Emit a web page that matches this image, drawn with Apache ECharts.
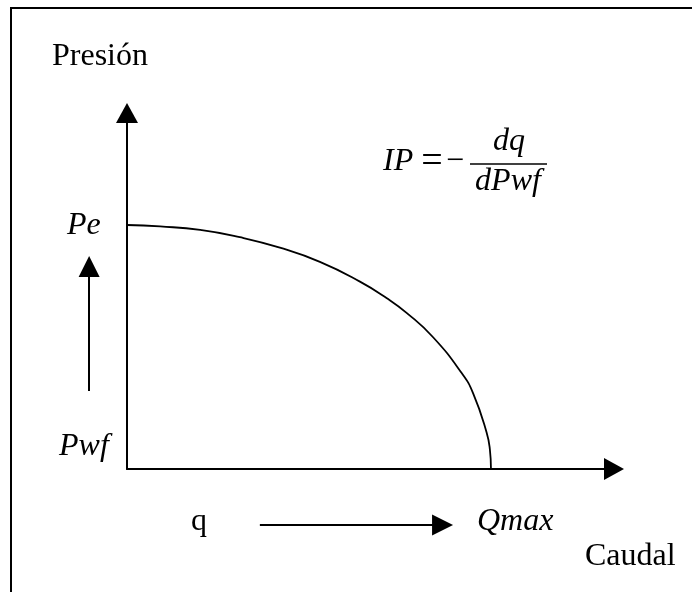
<!DOCTYPE html>
<html>
<head>
<meta charset="utf-8">
<script src="https://cdn.jsdelivr.net/npm/echarts@6/dist/echarts.min.js"></script>
<style>
  html, body { margin: 0; padding: 0; background: #fff; }
  #chart { width: 692px; height: 592px; }
</style>
</head>
<body>
<div id="chart"></div>
<script>
// units: q / Qmax on x, Pwf / Pe on y
const curveQ = [0, 0.091, 0.201, 0.310, 0.420, 0.530, 0.640, 0.714, 0.769, 0.841, 0.920, 0.951, 0.988, 0.997, 1.0];
const curveP = [1.0, 0.994, 0.980, 0.950, 0.907, 0.849, 0.768, 0.700, 0.639, 0.540, 0.392, 0.310, 0.150, 0.080, 0.0];

// helper arrows beside the axes: [from, to]
const pressureArrow = [[-0.104, 0.320], [-0.104, 0.830]];
const flowArrow = [[0.365, -0.230], [0.867, -0.230]];

const axisMaxQ = 1.338;
const axisMaxP = 1.459;

const serif = '"Liberation Serif", "Times New Roman", serif';
const ink = "#000";

const chart = echarts.init(document.getElementById("chart"), null, { renderer: "canvas" });

const mainAxis = (max) => ({
  type: "value",
  min: 0,
  max: max,
  axisLine: {
    show: true,
    symbol: ["none", "triangle"],
    symbolSize: [22, 20],
    lineStyle: { color: ink, width: 2 },
  },
  axisTick: { show: false },
  axisLabel: { show: false },
  splitLine: { show: false },
});

const text = (str, x, y, opts = {}) => ({
  type: "text",
  x: x,
  y: y,
  silent: true,
  style: {
    text: str,
    font: (opts.italic ? "italic " : "") + (opts.size || 32) + "px " + serif,
    fill: ink,
    align: opts.align || "left",
    verticalAlign: "middle",
  },
});

chart.setOption({
  animation: false,
  backgroundColor: "#fff",
  grid: [
    { left: 127, top: 113, right: 78, bottom: 123, outerBoundsMode: "none" },
    { left: 0, top: 0, right: 0, bottom: 0, outerBoundsMode: "none" },
  ],
  xAxis: [
    mainAxis(axisMaxQ),
    { type: "value", gridIndex: 1, min: -0.3489, max: 1.5522, show: false },
  ],
  yAxis: [
    mainAxis(axisMaxP),
    { type: "value", gridIndex: 1, min: -0.5041, max: 1.9221, show: false },
  ],
  series: [
    {
      type: "line",
      xAxisIndex: 0,
      yAxisIndex: 0,
      data: curveQ.map((q, i) => [q, curveP[i]]),
      symbol: "none",
      smooth: 0.5,
      smoothMonotone: "none",
      clip: false,
      lineStyle: { color: ink, width: 1.8 },
    },
    {
      type: "lines",
      coordinateSystem: "cartesian2d",
      xAxisIndex: 1,
      yAxisIndex: 1,
      symbol: ["none", "triangle"],
      symbolSize: 21,
      lineStyle: { color: ink, width: 2, opacity: 1, curveness: 0 },
      data: [{ coords: pressureArrow }, { coords: flowArrow }],
    },
  ],
  graphic: [
    {
      type: "polyline",
      silent: true,
      shape: { points: [[11, 592], [11, 8], [692, 8]] },
      style: { stroke: ink, lineWidth: 2, fill: null },
    },
    text("Presión", 52, 57),
    text("Caudal", 585, 557),
    text("Pe", 67, 226, { italic: true }),
    text("Pwf", 59, 447, { italic: true }),
    text("q", 191, 522),
    text("Qmax", 477, 522, { italic: true }),
    text("IP", 383, 162, { italic: true }),
    text("=", 432, 162, { align: "center", size: 38 }),
    text("−", 455, 162, { align: "center" }),
    text("dq", 509, 142, { italic: true, align: "center" }),
    text("dPwf", 508, 182, { italic: true, align: "center" }),
    {
      type: "line",
      silent: true,
      shape: { x1: 470, y1: 164, x2: 547, y2: 164 },
      style: { stroke: ink, lineWidth: 1.5 },
    },
  ],
});
</script>
</body>
</html>
